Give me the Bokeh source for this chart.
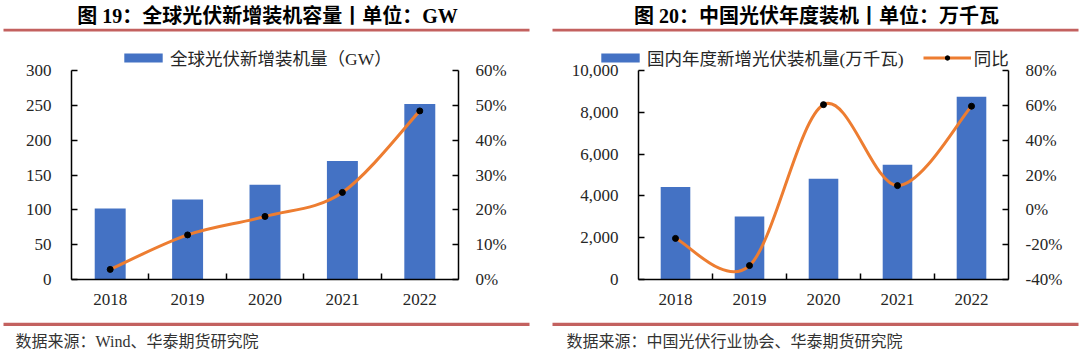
from bokeh.plotting import figure
from bokeh.layouts import row
from bokeh.models import (Range1d, LinearAxis, FixedTicker, SingleIntervalTicker,
                          NumeralTickFormatter, PrintfTickFormatter, Legend, LegendItem,
                          Label, BoxAnnotation, ColumnDataSource)
from bokeh.embed import file_html
from bokeh.resources import INLINE

# ---------------- data ----------------
years = ["2018", "2019", "2020", "2021", "2022"]
global_gw = [102, 115, 136, 170, 252]            # 全球光伏新增装机量 (GW)
global_yoy = [2.9, 12.8, 18.1, 25.0, 48.4]       # 同比 (%)
china_wkw = [4426, 3011, 4820, 5488, 8741]       # 国内年度新增光伏装机量 (万千瓦)
china_yoy = [-16.4, -32.0, 60.4, 13.9, 59.5]     # 同比 (%)

title1 = "图 19：全球光伏新增装机容量丨单位：GW"
title2 = "图 20：中国光伏年度装机丨单位：万千瓦"
legend1 = "全球光伏新增装机量（GW）"
legend2a = "国内年度新增光伏装机量(万千瓦)"
legend2b = "同比"
source1 = "数据来源：Wind、华泰期货研究院"
source2 = "数据来源：中国光伏行业协会、华泰期货研究院"

FONT = "'Liberation Serif', 'Noto Sans CJK SC'"
BAR = "#4472C4"
ORANGE = "#ED7D31"
RED = "#C3615F"
TXT = "#262626"

W, H = 540, 352
FT, FB = 70, 279    # pixel rows of the top / bottom tick of the axes


def smooth(xs, ys):
    n = len(xs)
    d = dict(x0=[], y0=[], x1=[], y1=[], cx0=[], cy0=[], cx1=[], cy1=[])
    for i in range(n - 1):
        a = i - 1 if i > 0 else i
        b = i + 2 if i + 2 < n else i + 1
        d["x0"].append(xs[i]); d["y0"].append(ys[i])
        d["x1"].append(xs[i + 1]); d["y1"].append(ys[i + 1])
        d["cx0"].append(xs[i] + (xs[i + 1] - xs[a]) / 6)
        d["cy0"].append(ys[i] + (ys[i + 1] - ys[a]) / 6)
        d["cx1"].append(xs[i + 1] - (xs[b] - xs[i]) / 6)
        d["cy1"].append(ys[i + 1] - (ys[b] - ys[i]) / 6)
    return ColumnDataSource(d)


def style_axis(ax, standoff):
    ax.axis_line_color = "black"
    ax.axis_line_width = 1.5
    ax.major_tick_line_color = "black"
    ax.major_tick_line_width = 1.5
    ax.major_tick_in = 6
    ax.major_tick_out = 0
    ax.minor_tick_line_color = None
    ax.major_label_text_font = FONT
    ax.major_label_text_font_size = "17px"
    ax.major_label_text_color = TXT
    ax.major_label_standoff = standoff


def span_range(lo, hi, p_lo, p_hi, size):
    # data range covering the whole canvas so that lo sits at pixel p_lo and hi at p_hi
    k = (hi - lo) / (p_hi - p_lo)
    return lo - p_lo * k, hi + (size - p_hi) * k


def make_chart(vals, yoy, ymax, ystep, lo, hi, pstep, lfmt, fl, fr,
               title, tcx, src, srcx, rule_l, rule_r, items_spec, leg_x):
    n = len(years)
    xs = list(range(n))
    x0, x1 = span_range(-0.5, n - 0.5, fl, fr, W)
    y0, y1 = span_range(0, ymax, H - FB, H - FT, H)
    r0, r1 = span_range(lo, hi, H - FB, H - FT, H)
    p = figure(width=W, height=H, output_backend="svg", toolbar_location=None,
               x_range=Range1d(x0, x1), y_range=Range1d(y0, y1), min_border=0)
    p.outline_line_color = None
    p.xgrid.visible = False
    p.ygrid.visible = False
    p.extra_y_ranges = {"pct": Range1d(r0, r1)}

    bars = p.vbar(x=xs, top=vals, width=0.4, fill_color=BAR, line_color=None)
    bez = p.bezier(x0="x0", y0="y0", x1="x1", y1="y1", cx0="cx0", cy0="cy0",
                   cx1="cx1", cy1="cy1", source=smooth(xs, yoy), y_range_name="pct",
                   line_color=ORANGE, line_width=3)
    pts = p.scatter(x=xs, y=yoy, y_range_name="pct", size=6,
                    fill_color="black", line_color="black")

    xa = p.xaxis[0]
    xa.ticker = FixedTicker(ticks=xs, minor_ticks=[i + 0.5 for i in xs[:-1]])
    xa.major_label_overrides = {i: y for i, y in enumerate(years)}
    style_axis(xa, 14)
    xa.major_tick_in = 0
    xa.minor_tick_line_color = "black"
    xa.minor_tick_line_width = 1.5
    xa.minor_tick_in = 6
    xa.minor_tick_out = 0
    xa.fixed_location = 0
    xa.bounds = (-0.5, n - 0.5)

    ya = p.yaxis[0]
    ya.ticker = SingleIntervalTicker(interval=ystep, num_minor_ticks=0)
    ya.formatter = lfmt
    style_axis(ya, 20)
    ya.fixed_location = -0.5
    ya.bounds = (0, ymax)

    ra = LinearAxis(y_range_name="pct",
                    ticker=SingleIntervalTicker(interval=pstep, num_minor_ticks=0),
                    formatter=PrintfTickFormatter(format="%d%%"),
                    fixed_location=n - 0.5, bounds=(lo, hi))
    style_axis(ra, 17)
    p.add_layout(ra, "right")

    rmap = {"bar": [bars], "line": [bez, pts]}
    items = [LegendItem(label=lab, renderers=rmap[k]) for lab, k in items_spec]
    leg = Legend(items=items, orientation="horizontal", location=(leg_x, H - 70),
                 padding=0, margin=0, spacing=19, label_standoff=3,
                 glyph_width=48, glyph_height=11, label_height=20,
                 border_line_color=None, background_fill_alpha=0,
                 label_text_font=FONT, label_text_font_size="17.5px",
                 label_text_color=TXT)
    p.add_layout(leg)

    p.add_layout(Label(x=tcx, y=H - 15.5, x_units="screen", y_units="screen",
                       text=title, text_align="center", text_baseline="middle",
                       text_font=FONT, text_font_style="bold",
                       text_font_size="20px", text_color="black"))
    for top, bot in [(28.2, 31.0), (322.3, 325.6)]:
        p.add_layout(BoxAnnotation(left=rule_l, right=rule_r,
                                   top=H - top, bottom=H - bot,
                                   left_units="screen", right_units="screen",
                                   top_units="screen", bottom_units="screen",
                                   fill_color=RED, fill_alpha=1, line_color=None))
    p.add_layout(Label(x=srcx, y=H - 341, x_units="screen", y_units="screen",
                       text=src, text_align="left", text_baseline="middle",
                       text_font=FONT, text_font_size="16px", text_color="#333333"))
    return p


p1 = make_chart(global_gw, global_yoy, 300, 50, 0, 60, 10,
                NumeralTickFormatter(format="0"), 71, 458,
                title1, 267, source1, 15, 3, 529,
                [(legend1, "bar")], 124 - 5)
p2 = make_chart(china_wkw, china_yoy, 10000, 2000, -40, 80, 20,
                NumeralTickFormatter(format="0,0"), 98, 468,
                title2, 276, source2, 26, 12, 538,
                [(legend2a, "bar"), (legend2b, "line")], 601 - 540 - 5)

layout = row(p1, p2, spacing=0)
open("out.html", "w").write(file_html(layout, INLINE))
